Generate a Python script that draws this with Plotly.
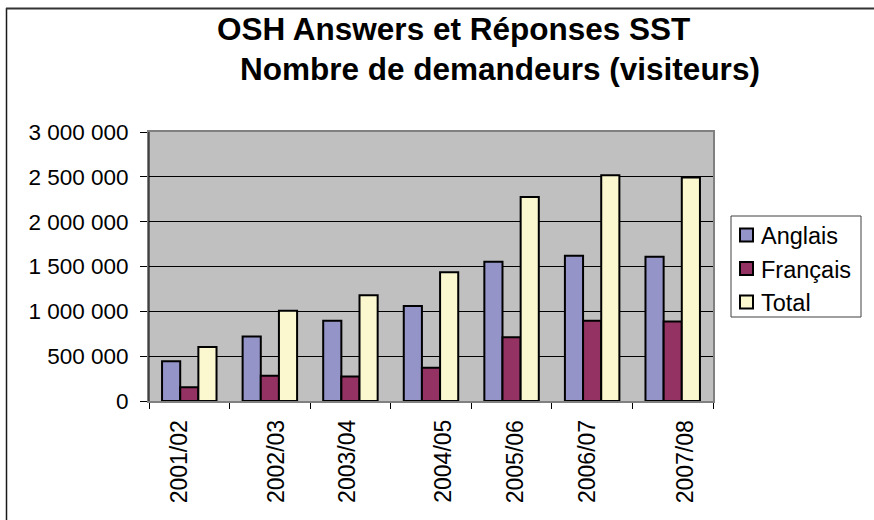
import plotly.graph_objects as go

# ---- data ----
categories = ["2001/02", "2002/03", "2003/04", "2004/05", "2005/06", "2006/07", "2007/08"]
series_names = ["Anglais", "Français", "Total"]
anglais = [443000, 718000, 895000, 1060000, 1553000, 1620000, 1609000]
francais = [154000, 282000, 274000, 372000, 711000, 895000, 887000]
total = [601000, 1007000, 1180000, 1436000, 2274000, 2519000, 2492000]
y_ticks = [0, 500000, 1000000, 1500000, 2000000, 2500000, 3000000]

# ---- layout helpers ----
W, H = 874, 520
PL, PR, PT, PB = 149, 713, 132, 401  # plot area in pixels


def px(x):
    return (x - PL) / (PR - PL)


def py(y):
    return (PB - y) / (PB - PT)


FONT = "Liberation Sans, Arial, sans-serif"
colors = ["#9494C9", "#943263", "#FBF8D0"]
label_offsets = [-0.13, 0.07, -0.05, 0.14, 0.04, -0.07, 0.15]

xidx = list(range(len(categories)))

fig = go.Figure()
for name, vals, col in zip(series_names, [anglais, francais, total], colors):
    fig.add_trace(go.Bar(
        x=xidx, y=vals, name=name, showlegend=False,
        marker=dict(color=col, line=dict(color="#000000", width=2)),
    ))

annotations = [
    dict(text="<b>OSH Answers et Réponses SST</b>", x=px(453.5), y=py(29), xref="paper", yref="paper",
         showarrow=False, font=dict(family=FONT, size=31.5, color="#000"), xanchor="center", yanchor="middle"),
    dict(text="<b>Nombre de demandeurs (visiteurs)</b>", x=px(500), y=py(69), xref="paper", yref="paper",
         showarrow=False, font=dict(family=FONT, size=31.5, color="#000"), xanchor="center", yanchor="middle"),
]
for i, c in enumerate(categories):
    annotations.append(dict(
        text=c, x=i + label_offsets[i], y=py(418), xref="x", yref="paper",
        showarrow=False, textangle=-90, xanchor="center", yanchor="top",
        font=dict(family=FONT, size=23, color="#000"),
    ))

shapes = [
    # outer chart border (left and top only)
    dict(type="line", xref="paper", yref="paper", x0=px(6.5), x1=px(6.5), y0=py(8), y1=py(H),
         line=dict(color="#1a1a1a", width=1.5), layer="above"),
    dict(type="line", xref="paper", yref="paper", x0=px(6), x1=px(W), y0=py(8.5), y1=py(8.5),
         line=dict(color="#333333", width=2), layer="above"),
    # left axis line
    dict(type="line", xref="paper", yref="paper", x0=0, x1=0, y0=0, y1=1,
         line=dict(color="#000000", width=1)),
    # legend box
    dict(type="rect", xref="paper", yref="paper", x0=px(731), x1=px(861), y0=py(216), y1=py(317),
         fillcolor="#FFFFFF", line=dict(color="#404040", width=1), layer="above"),
]

# legend entries (swatch + label)
legend_rows = [235, 268.5, 302]
for name, col, yc in zip(series_names, colors, legend_rows):
    shapes.append(dict(type="rect", xref="paper", yref="paper",
                       x0=px(740), x1=px(753), y0=py(yc - 6.5), y1=py(yc + 6.5),
                       fillcolor=col, line=dict(color="#000000", width=2), layer="above"))
    annotations.append(dict(text=name, x=px(759), y=py(yc + 1), xref="paper", yref="paper",
                            showarrow=False, xanchor="left", yanchor="middle",
                            font=dict(family=FONT, size=23.5, color="#000")))

fig.update_layout(
    width=W, height=H,
    margin=dict(l=PL, r=W - PR, t=PT, b=H - PB, pad=0),
    paper_bgcolor="#FFFFFF",
    plot_bgcolor="#C0C0C0",
    separators=", ",
    barmode="group",
    bargap=0.324,
    bargroupgap=0,
    font=dict(family=FONT, size=22, color="#000"),
    showlegend=False,
    annotations=annotations,
    shapes=shapes,
)

fig.update_xaxes(
    range=[-0.5, len(categories) - 0.5],
    tickmode="array", tickvals=[i - 0.5 for i in range(len(categories) + 1)],
    showticklabels=False,
    ticks="outside", ticklen=6, tickcolor="#000", tickwidth=1,
    showgrid=False, zeroline=False,
    showline=True, linecolor="#808080", linewidth=2, mirror=True,
    fixedrange=True,
)
fig.update_yaxes(
    range=[0, 3000000],
    tickmode="array", tickvals=y_ticks,
    tickformat=",.0f",
    ticks="outside", ticklen=7, tickcolor="#000", tickwidth=1,
    ticklabelstandoff=7,
    showgrid=True, gridcolor="#000000", gridwidth=1,
    zeroline=False,
    showline=True, linecolor="#808080", linewidth=2, mirror=True,
    tickfont=dict(family=FONT, size=22.5, color="#000"),
    fixedrange=True,
)

fig.write_html("out.html", config={"displayModeBar": False},
               post_script="document.body.style.margin='0';")
